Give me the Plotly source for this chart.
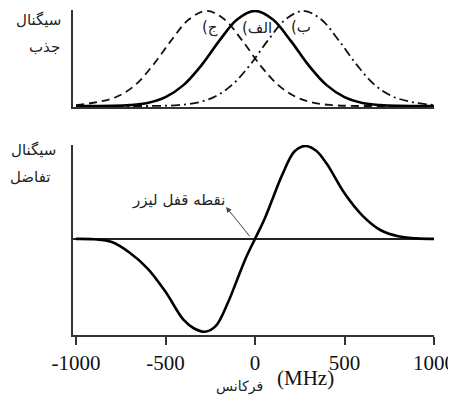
import plotly.graph_objects as go

# ---------------- data ----------------
freq_a = [-1000, -900, -800, -700, -600, -500, -400, -300, -200, -100, 0,
          100, 200, 300, 400, 500, 600, 700, 800, 900, 1000]
absorb_a = [0.0, 0.0005, 0.002, 0.01, 0.033, 0.094, 0.22, 0.427, 0.685, 0.91, 1.0,
            0.91, 0.685, 0.427, 0.22, 0.094, 0.033, 0.01, 0.002, 0.0005, 0.0]

freq_c = [-1000, -870, -770, -670, -570, -470, -370, -270, -170, -70, 30,
          130, 230, 330, 430, 530, 630, 730, 1000]
absorb_c = [0.01, 0.045, 0.10, 0.22, 0.43, 0.685, 0.91, 1.0, 0.91, 0.685, 0.427,
            0.22, 0.094, 0.033, 0.01, 0.002, 0.0005, 0.0, 0.0]

freq_b = [-1000, -730, -630, -530, -430, -330, -230, -130, -30, 70, 170,
          270, 370, 470, 570, 670, 770, 870, 1000]
absorb_b = [0.0, 0.0, 0.0005, 0.002, 0.01, 0.033, 0.094, 0.22, 0.427, 0.685, 0.91,
            1.0, 0.91, 0.685, 0.43, 0.22, 0.10, 0.045, 0.01]

freq_d = [-1000, -900, -800, -700, -600, -500, -400, -340, -280, -220, -150, -100, -50, 0,
          50, 100, 150, 220, 280, 340, 400, 500, 600, 700, 800, 900, 1000]
diff_signal = [0.0, -0.005, -0.035, -0.15, -0.32, -0.57, -0.87, -0.965, -1.0, -0.94, -0.68, -0.44, -0.2, 0.0,
               0.2, 0.44, 0.68, 0.94, 1.0, 0.95, 0.81, 0.49, 0.25, 0.095, 0.027, 0.005, 0.0]

tick_vals = [-1000, -500, 0, 500, 1000]
tick_text = ["-1000", "-500", "0", "500", "1000"]

label_a = "\u202Bالف)\u202C"
label_b = "\u202Bب)\u202C"
label_c = "\u202Bج)\u202C"
ylabel_top = ["سیگنال", "جذب"]
ylabel_bottom = ["سیگنال", "تفاضل"]
lock_text = "نقطه قفل لیزر"
xtitle_fa = "فرکانس"
xtitle_unit = "(MHz)"

# ---------------- layout geometry ----------------
# the page body has an 8px margin, so the figure is drawn 8px in from the corner
OFF = 8
W, H = 456 - OFF, 399 - OFF
ML, MR, MT, MB = 73 - OFF, 22, 10 - OFF, 64
PW = W - ML - MR
PH = H - MT - MB


def px(x):
    # x: window pixel -> paper fraction
    return (x - OFF - ML) / PW


def py(y):
    # y: window pixel -> paper fraction
    return (H - MB - (y - OFF)) / PH


FA = "DejaVu Sans"
SERIF = "Liberation Serif"

fig = go.Figure()

fig.add_trace(go.Scatter(x=freq_c, y=absorb_c, mode="lines", line_shape="spline",
                         line=dict(color="#111", width=1.8, dash="8px,5px"),
                         xaxis="x", yaxis="y", showlegend=False))
fig.add_trace(go.Scatter(x=freq_b, y=absorb_b, mode="lines", line_shape="spline",
                         line=dict(color="#111", width=1.8, dash="9px,4px,2px,4px"),
                         xaxis="x", yaxis="y", showlegend=False))
fig.add_trace(go.Scatter(x=freq_a, y=absorb_a, mode="lines", line_shape="spline",
                         line=dict(color="#000", width=2.6),
                         xaxis="x", yaxis="y", showlegend=False))
fig.add_trace(go.Scatter(x=freq_d, y=diff_signal, mode="lines", line_shape="spline",
                         line=dict(color="#000", width=2.6),
                         xaxis="x2", yaxis="y2", showlegend=False))

axis_common = dict(showgrid=False, linecolor="#333", linewidth=1.5,
                   range=[-1017, 1000], domain=[0, 1])

fig.update_layout(
    width=W, height=H,
    margin=dict(l=ML, r=MR, t=MT, b=MB),
    paper_bgcolor="white", plot_bgcolor="white",
    xaxis=dict(**axis_common, anchor="y", showline=True, zeroline=False,
               showticklabels=False, ticks=""),
    yaxis=dict(anchor="x", domain=[py(107), 1], range=[-0.01, 1.01],
               showline=True, linecolor="#333", linewidth=1.5,
               showgrid=False, zeroline=False, showticklabels=False, ticks=""),
    xaxis2=dict(**axis_common, anchor="y2", showline=True, zeroline=False,
                ticks="outside", ticklen=8, tickwidth=1.5, tickcolor="#333",
                tickvals=tick_vals, ticktext=tick_text,
                tickfont=dict(family=SERIF, size=21, color="#111")),
    yaxis2=dict(anchor="x2", domain=[0, py(145)], range=[-1.035, 1.01],
                showline=True, linecolor="#333", linewidth=1.5,
                showgrid=False, zeroline=True, zerolinecolor="#222", zerolinewidth=1.5,
                showticklabels=False, ticks=""),
)

annos = []


def txt(text, x, y, size=15, family=FA, color="#222"):
    annos.append(dict(text=text, x=px(x), y=py(y), xref="paper", yref="paper",
                      showarrow=False, xanchor="center", yanchor="middle",
                      font=dict(family=family, size=size, color=color)))


txt(ylabel_top[0], 38, 20)
txt(ylabel_top[1], 44, 47)
txt(ylabel_bottom[0], 33, 150)
txt(ylabel_bottom[1], 30, 177)
txt(label_c, 210, 28)
txt(label_a, 257, 28)
txt(label_b, 301, 27)
txt(lock_text, 178, 200)
txt(xtitle_fa, 239, 386, size=14)
txt(xtitle_unit, 305, 378, size=21, family=SERIF, color="#111")

annos.append(dict(text="", x=-162, y=0.344, xref="x2", yref="y2",
                  showarrow=True, ax=25, ay=31, arrowhead=2, arrowsize=1.1,
                  arrowwidth=1, arrowcolor="#444"))

fig.update_layout(annotations=annos)

fig.write_html("out.html")
